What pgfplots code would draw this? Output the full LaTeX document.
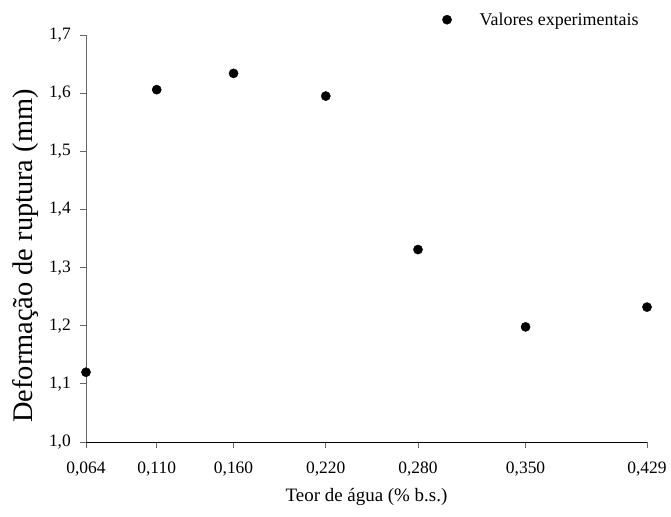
\documentclass[border=0pt]{standalone}
\usepackage{pgfplots}
\pgfplotsset{compat=1.18}
\usepackage{fontspec}
\setmainfont{Liberation Serif}
\begin{document}
\begin{tikzpicture}
\begin{axis}[
  at={(0,0)}, anchor=south west,
  scale only axis,
  width=561bp, height=407bp,
  xmin=0.064, xmax=0.429,
  ymin=1.0, ymax=1.7,
  axis lines*=left,
  clip=false,
  tick align=outside,
  major tick length=6bp,
  xtick={0.064,0.110,0.160,0.220,0.280,0.350,0.429},
  ytick={1.0,1.1,1.2,1.3,1.4,1.5,1.6,1.7},
  minor tick num=0,
  x tick label style={/pgf/number format/use comma, /pgf/number format/fixed, /pgf/number format/fixed zerofill, /pgf/number format/precision=3, /pgf/number format/assume math mode=true, /tikz/inner sep=0pt, /tikz/anchor=north, /tikz/yshift=-14bp},
  y tick label style={/pgf/number format/use comma, /pgf/number format/fixed, /pgf/number format/fixed zerofill, /pgf/number format/precision=1, /pgf/number format/assume math mode=true, /tikz/inner sep=0pt, /tikz/anchor=east, /tikz/xshift=-9bp},
  scaled x ticks=false,
  ticklabel style={font=\fontsize{17.5}{20}\selectfont},
  xlabel={Teor de água (\% b.s.)},
  ylabel={Deformação de ruptura (mm)},
  xlabel style={font=\fontsize{19}{22}\selectfont, at={(axis description cs:0.5,0)}, anchor=center, yshift=-55bp},
  ylabel style={font=\fontsize{28.5}{32}\selectfont, at={(axis description cs:-0.107,0.457)}, anchor=center},
  x axis line style={black},
  y axis line style={black!60},
  every tick/.style={black!60, line width=0.8pt},
  legend style={draw=none, fill=none, inner sep=0pt, anchor=west,
    at={(0.635,1.0376)}, font=\fontsize{18}{21}\selectfont,
    column sep=26bp},
]
\addplot[only marks, mark=*, mark size=4.6bp, black] coordinates {
  (0.064,1.120)
  (0.110,1.606)
  (0.160,1.634)
  (0.220,1.595)
  (0.280,1.331)
  (0.350,1.198)
  (0.429,1.232)
};
\addlegendentry{Valores experimentais}
\end{axis}
\useasboundingbox (-86bp,-75bp) rectangle (585bp,442bp);
\end{tikzpicture}
\end{document}
